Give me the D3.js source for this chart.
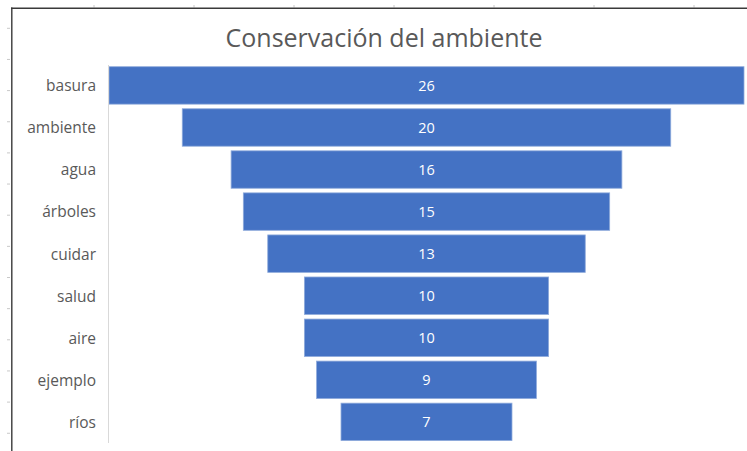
<!DOCTYPE html>
<html><head><meta charset="utf-8">
<script src="https://cdn.jsdelivr.net/npm/d3@7"></script>
<style>html,body{margin:0;padding:0;background:#fff;}svg{display:block;}</style>
</head><body>
<svg id="c" width="747" height="451"></svg>
<script>
const categories = ["basura","ambiente","agua","árboles","cuidar","salud","aire","ejemplo","ríos"];
const values = [26,20,16,15,13,10,10,9,7];
const title = "Conservación del ambiente";

const svg = d3.select("#c");
const FONT = "'Open Sans', 'Noto Sans', sans-serif";

// spreadsheet chrome
const chrome = svg.append("g");
d3.range(14).forEach(i => {
  const y = 28.3 + i * 31.15;
  chrome.append("line").attr("x1", 7).attr("x2", 10).attr("y1", y).attr("y2", y).attr("stroke", "#c8c8c8");
});
d3.range(7).forEach(i => {
  const x = 94 + i * 100;
  chrome.append("line").attr("x1", x).attr("x2", x).attr("y1", 5).attr("y2", 7.5).attr("stroke", "#c8c8c8");
});
chrome.append("line").attr("x1", 11).attr("x2", 747).attr("y1", 8.2).attr("y2", 8.2).attr("stroke", "#3a3a3a").attr("stroke-width", 1.4);
chrome.append("line").attr("x1", 11.8).attr("x2", 11.8).attr("y1", 7.5).attr("y2", 451).attr("stroke", "#3a3a3a").attr("stroke-width", 1.4);

// title
svg.append("text").attr("x", 384).attr("y", 46.5).attr("text-anchor", "middle")
  .attr("font-family", FONT).attr("font-size", 25).attr("fill", "#595959").text(title);

const maxV = d3.max(values);
const x = d3.scaleLinear().domain([-maxV / 2, maxV / 2]).range([109, 744]);
const y = d3.scaleBand().domain(categories).range([64.4, 442.9]).paddingInner(0.11).paddingOuter(0.055);

const data = categories.map((c, i) => ({c, v: values[i]}));

// bars
svg.append("g").selectAll("rect").data(data).join("rect")
  .attr("x", d => x(-d.v / 2)).attr("width", d => x(d.v / 2) - x(-d.v / 2))
  .attr("y", d => y(d.c)).attr("height", y.bandwidth())
  .attr("fill", "#4472C4").attr("stroke", "#8eaadb").attr("stroke-width", 0.8);

// axis
const axis = d3.axisLeft(y).tickSize(0).tickPadding(12.5);
const ag = svg.append("g").attr("transform", "translate(108.5,0)").call(axis);
ag.select(".domain").attr("stroke", "#d9d9d9").attr("d", "M0,65V443");
ag.selectAll("text").attr("font-family", FONT).attr("font-size", 15.5).attr("fill", "#595959")
  .attr("dy", "0.38em");

// value labels
svg.append("g").selectAll("text").data(data).join("text")
  .attr("x", d => x(0)).attr("y", d => y(d.c) + y.bandwidth() / 2)
  .attr("dy", "0.36em").attr("text-anchor", "middle")
  .attr("font-family", FONT).attr("font-size", 14.5).attr("fill", "#ffffff")
  .text(d => d.v);
</script>
</body></html>
